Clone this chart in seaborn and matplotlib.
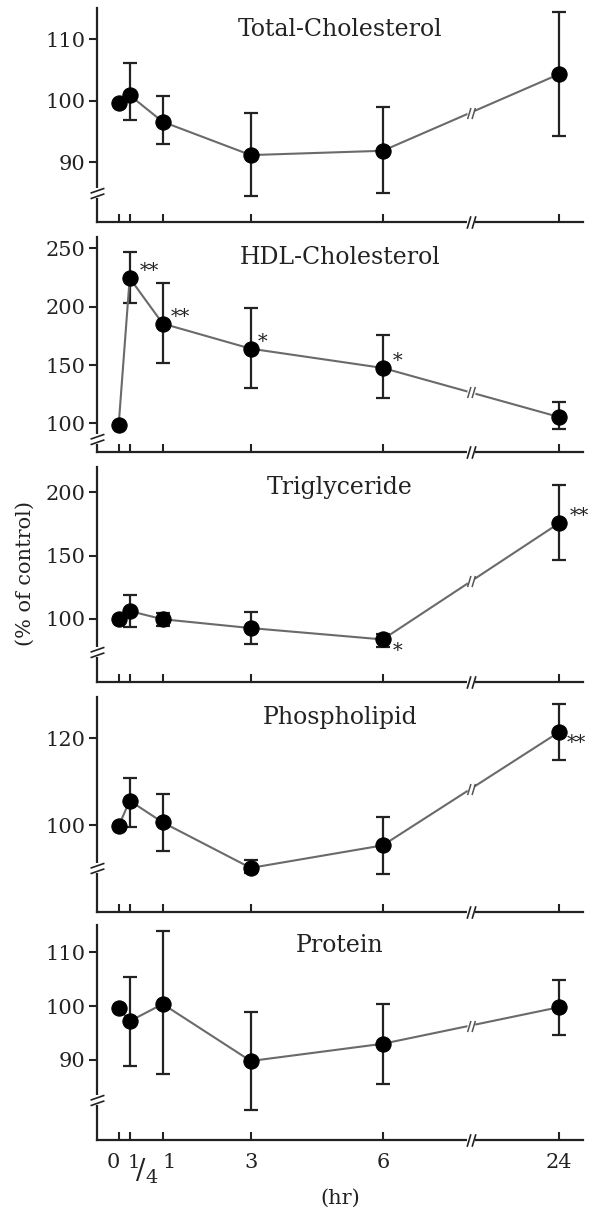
import numpy as np
import pandas as pd
import seaborn as sns
import matplotlib.pyplot as plt
from matplotlib.path import Path
from matplotlib.transforms import ScaledTranslation

sns.set_theme(style='ticks')
plt.rcParams['font.family'] = ['DejaVu Serif']
plt.rcParams['mathtext.fontset'] = 'dejavuserif'

# time points (hr) and their tick labels
hours = [0, 0.25, 1, 3, 6, 24]
hour_labels = ['0', r'$^{1}\!/_{4}$', '1', '3', '6', '24']

# values (% of control): mean, top and bottom of the error bar
tc_mean = [99.7, 100.9, 96.6, 91.2, 91.9, 104.3]
tc_hi = [np.nan, 106.1, 100.7, 98.1, 99.0, 114.4]
tc_lo = [np.nan, 96.9, 93.0, 84.5, 85.1, 94.3]

hdl_mean = [99.0, 224.5, 185.5, 164.0, 147.5, 105.5]
hdl_hi = [np.nan, 247.0, 220.5, 198.5, 175.5, 118.0]
hdl_lo = [np.nan, 203.0, 152.0, 130.5, 122.0, 95.0]

tg_mean = [100.0, 106.0, 99.5, 92.5, 83.5, 175.5]
tg_hi = [np.nan, 119.0, 104.5, 105.5, 87.5, 206.0]
tg_lo = [np.nan, 93.5, 94.0, 80.0, 77.5, 146.5]

pl_mean = [99.8, 105.6, 100.6, 90.1, 95.3, 121.4]
pl_hi = [np.nan, 110.8, 107.2, 92.0, 101.8, 127.9]
pl_lo = [np.nan, 99.6, 94.1, 88.9, 88.7, 115.0]

pr_mean = [99.7, 97.2, 100.4, 89.8, 93.0, 99.8]
pr_hi = [np.nan, 105.5, 114.0, 99.0, 100.4, 104.8]
pr_lo = [np.nan, 88.9, 87.4, 80.7, 85.6, 94.6]

titles = ['Total-Cholesterol', 'HDL-Cholesterol', 'Triglyceride', 'Phospholipid', 'Protein']
means = [tc_mean, hdl_mean, tg_mean, pl_mean, pr_mean]
his = [tc_hi, hdl_hi, tg_hi, pl_hi, pr_hi]
los = [tc_lo, hdl_lo, tg_lo, pl_lo, pr_lo]

# significance marks: (panel, point index, text)
stars = [(1, 1, '**'), (1, 2, '**'), (1, 3, '*'), (1, 4, '*'),
         (2, 4, '*'), (2, 5, '**'), (3, 5, '**')]

# axis settings per panel
ylims = [(80.4, 115), (75.7, 260), (50, 220.4), (80, 129.6), (75.1, 115.1)]
yticks = [[90, 100, 110], [100, 150, 200, 250], [100, 150, 200], [100, 120], [90, 100, 110]]
ybreaks = [85, 87, 73.5, 90, 82.5]
star_offsets = {(1, 1): (7, 5), (1, 2): (6, 5), (1, 3): (5, 5), (1, 4): (7, 5),
                (2, 4): (7, -8), (2, 5): (8, 5), (3, 5): (6, -8)}

# broken x axis: 0-6 hr linear, 24 hr placed after a break
BREAK_POS = 8
FAR_POS = 10
pos = [h if h <= 6 else FAR_POS for h in hours]

# layout in pixels (figure 590 x 1211)
W, H = 590, 1211
left_px, right_px = 96.7, 583
panel_px = [(8.3, 221.7), (236.7, 451.7), (466.7, 681.7), (696.7, 911.7), (925, 1140)]

fig = plt.figure(figsize=(W / 100, H / 100), dpi=100)

ybreak_marker = Path([(-1, -0.75), (1, -0.05), (-1, 0.05), (1, 0.75)],
                     [Path.MOVETO, Path.LINETO, Path.MOVETO, Path.LINETO])
xbreak_marker = Path([(-0.7, -1), (-0.1, 1), (0.1, -1), (0.7, 1)],
                     [Path.MOVETO, Path.LINETO, Path.MOVETO, Path.LINETO])

ink = '#222222'
axes = []
for i, (top, bot) in enumerate(panel_px):
    ax = fig.add_axes([left_px / W, 1 - bot / H, (right_px - left_px) / W, (bot - top) / H])
    axes.append(ax)
    df = pd.DataFrame({'pos': pos, 'val': means[i], 'hi': his[i], 'lo': los[i]})

    eb = df.dropna()
    ax.errorbar(eb['pos'], eb['val'], yerr=[eb['val'] - eb['lo'], eb['hi'] - eb['val']],
                fmt='none', ecolor=ink, elinewidth=1.6, capsize=5, capthick=1.6, zorder=2)
    sns.lineplot(data=df, x='pos', y='val', ax=ax, color='#6a6a6a', lw=1.5,
                 marker='o', markersize=11, markerfacecolor='black',
                 markeredgecolor='black', zorder=3, sort=False)

    ax.set_xlim(-0.5, 10.55)
    ax.set_ylim(*ylims[i])
    ax.set_yticks(yticks[i])
    ax.set_xticks(pos)
    ax.set_xticklabels(hour_labels)
    ax.set_xlabel('')
    ax.set_ylabel('')
    sns.despine(ax=ax)
    for s in ['left', 'bottom']:
        ax.spines[s].set_linewidth(1.6)
        ax.spines[s].set_color(ink)
    ax.tick_params(axis='y', direction='out', length=6, width=1.5, color=ink,
                   labelsize=15, pad=2, labelcolor='#222222')
    ax.tick_params(axis='x', direction='in', length=6, width=1.5, color=ink,
                   labelsize=15, pad=9, labelcolor='#222222', labelbottom=(i == 4))

    ax.text(0.5, 1 - 21 / (bot - top), titles[i], transform=ax.transAxes,
            ha='center', va='center', fontsize=17, color='#222222')

    # y axis break
    ax.plot([0], [ybreaks[i]], transform=ax.get_yaxis_transform(), marker='|',
            markersize=7, mew=4, color='white', clip_on=False, zorder=5)
    ax.plot([0], [ybreaks[i]], transform=ax.get_yaxis_transform(), marker=ybreak_marker,
            markersize=10, mew=1.2, color=ink, fillstyle='none', clip_on=False, zorder=6)
    # x axis break
    ax.plot([BREAK_POS], [0], transform=ax.get_xaxis_transform(), marker='_',
            markersize=6, mew=4, color='white', clip_on=False, zorder=5)
    ax.plot([BREAK_POS], [0], transform=ax.get_xaxis_transform(), marker=xbreak_marker,
            markersize=9, mew=1.2, color=ink, fillstyle='none', clip_on=False, zorder=6)
    # break on the data line
    y_at_break = np.interp(BREAK_POS, [pos[4], pos[5]], [means[i][4], means[i][5]])
    ax.plot([BREAK_POS], [y_at_break], marker='o', markersize=5, color='white',
            mec='white', zorder=4)
    ax.plot([BREAK_POS], [y_at_break], marker=xbreak_marker, markersize=8, mew=1.1,
            color='#555555', fillstyle='none', zorder=5)

for p, k, txt in stars:
    dx, dy = star_offsets[(p, k)]
    axes[p].annotate(txt, (pos[k], means[p][k]), xytext=(dx, dy), textcoords='offset points',
                     ha='left', va='center', fontsize=14, color='#222222',
                     annotation_clip=False)

# shift the crowded first tick labels apart
shifts = [-5, 13, 6, 0, 0, 0]
labels = axes[4].get_xticklabels()
labels[1].set_fontsize(20)
for lab, s in zip(labels, shifts):
    lab.set_transform(lab.get_transform() + ScaledTranslation(s / 100, 0, fig.dpi_scale_trans))

fig.text(340 / W, 1 - 1198 / H, '(hr)', ha='center', va='center', fontsize=15, color='#222222')
fig.text(25 / W, 1 - 574 / H, '(% of control)', rotation=90, ha='center', va='center',
         fontsize=15, color='#222222')

fig.savefig('out.png', dpi=100)
